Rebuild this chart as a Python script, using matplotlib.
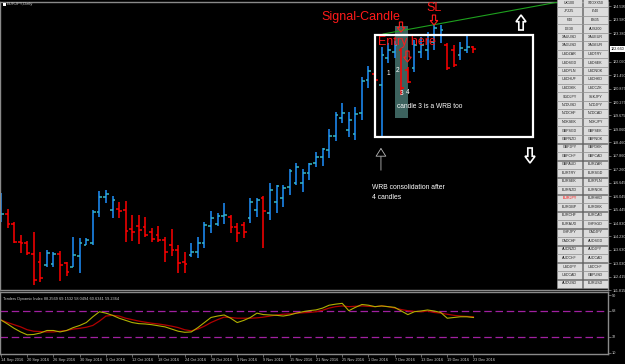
import numpy as np
import matplotlib.pyplot as plt
from matplotlib.patches import Rectangle, Polygon

plt.rcParams['font.family'] = ['Liberation Sans', 'DejaVu Sans']

# EURJPY daily bars, 14 Sep 2016 .. 23 Dec 2016 (bar index 0..72)
opens = [115.01, 115.235, 114.785, 113.975, 113.93, 113.435, 113.075, 112.94, 112.985, 113.435,
         113.03, 112.85, 113.345, 113.84, 113.93, 115.325, 116.0, 115.415, 115.46, 115.415,
         114.56, 114.695, 114.65, 114.425, 114.29, 114.065, 113.84, 113.615, 113.075, 113.39,
         113.525, 113.93, 114.695, 114.785, 115.145, 115.1, 114.65, 114.74, 115.055, 115.415,
         115.955, 115.28, 115.775, 115.955, 116.45, 116.63, 116.63, 117.08, 117.53, 117.8,
         118.115, 118.745, 119.555, 119.015, 118.835, 119.78, 121.265, 121.535, 121.04, 122.255,
         122.525, 122.615, 121.715, 121.805, 122.525, 122.615, 122.975, 123.29, 122.84, 122.615,
         122.39, 122.615, 122.75]
highs = [116.18, 115.46, 114.875, 114.29, 114.02, 114.425, 113.525, 113.615, 113.525, 113.57,
         113.075, 114.2, 114.155, 114.155, 115.415, 116.27, 116.315, 116.045, 115.775, 115.82,
         115.19, 115.19, 115.1, 114.605, 114.695, 114.2, 114.56, 113.84, 113.525, 113.93,
         114.2, 114.875, 115.37, 115.28, 115.73, 115.19, 114.83, 114.875, 115.955, 115.955,
         116.045, 116.63, 116.54, 116.54, 117.26, 117.53, 117.26, 117.53, 118.025, 118.205,
         119.06, 119.825, 120.23, 119.825, 120.05, 121.4, 121.895, 121.715, 122.75, 122.93,
         123.02, 122.705, 121.85, 123.065, 123.2, 123.425, 123.785, 123.74, 122.93, 122.84,
         122.975, 123.29, 122.795]
lows = [114.875, 114.605, 113.93, 113.48, 113.39, 112.04, 112.175, 112.85, 112.85, 112.22,
        112.445, 112.85, 112.58, 113.84, 113.84, 115.1, 115.73, 115.055, 115.055, 113.975,
        114.02, 113.885, 114.2, 113.975, 113.975, 113.075, 113.345, 112.58, 112.58, 113.3,
        113.255, 113.705, 114.38, 114.695, 114.785, 114.38, 113.975, 114.155, 114.83, 115.1,
        113.705, 114.965, 115.28, 115.55, 116.09, 116.54, 116.225, 116.765, 117.35, 117.395,
        117.755, 118.52, 119.33, 118.7, 118.565, 119.465, 120.905, 121.085, 118.7, 122.03,
        122.255, 120.59, 121.13, 121.625, 122.255, 122.165, 122.615, 122.93, 121.715, 121.85,
        122.165, 122.48, 122.48]
closes = [115.235, 114.785, 113.975, 113.93, 113.48, 112.265, 112.355, 113.48, 113.435, 112.94,
          112.625, 113.39, 113.93, 114.065, 115.325, 116.0, 116.135, 115.865, 115.37, 114.47,
          114.425, 114.515, 114.29, 114.11, 114.065, 113.525, 113.615, 113.03, 112.985, 113.525,
          113.93, 114.74, 115.055, 115.145, 115.19, 114.65, 114.38, 114.425, 115.775, 115.865,
          115.37, 116.315, 116.495, 116.405, 117.17, 117.35, 117.08, 117.485, 117.8, 118.16,
          118.745, 119.69, 119.78, 119.465, 119.735, 121.22, 121.67, 121.265, 122.39, 122.615,
          122.84, 120.905, 121.175, 122.84, 122.84, 123.29, 123.605, 123.515, 121.805, 121.94,
          122.705, 122.75, 122.66]

# price scale labels (the one under the current-price box is hidden, as in MT4)
price_ticks = [124.595, 123.980, 123.380, 122.090, 121.490, 120.875, 120.275, 119.675, 119.060,
               118.460, 117.860, 117.260, 116.645, 116.045, 115.445, 114.830, 114.230, 113.630,
               113.030, 112.415, 111.815]

date_ticks = [0, 4, 8, 12, 16, 20, 24, 28, 32, 36, 40, 44, 48, 52, 56, 60, 64, 68, 72]
date_labels = ['14 Sep 2016', '20 Sep 2016', '26 Sep 2016', '30 Sep 2016', '6 Oct 2016',
               '12 Oct 2016', '18 Oct 2016', '24 Oct 2016', '28 Oct 2016', '3 Nov 2016',
               '9 Nov 2016', '15 Nov 2016', '21 Nov 2016', '25 Nov 2016', '1 Dec 2016',
               '7 Dec 2016', '13 Dec 2016', '19 Dec 2016', '23 Dec 2016']

# Traders Dynamic Index (fast / slow line), one value per bar
tdi_fast = [55.5, 50, 44, 39, 35, 35.5, 37.5, 41, 41, 39, 41, 45, 48, 52, 60, 67, 65, 62, 58, 55,
            52, 50.5, 50, 49, 47.5, 46, 43, 40, 38.5, 39, 45, 52, 59, 61, 62.5, 58, 52, 55, 59, 65,
            63, 62.5, 62, 61, 62.5, 65, 67, 68.5, 69.5, 72, 76, 77.5, 78.6, 68.4, 73, 77, 76, 74,
            75, 74, 73, 68, 63, 67, 68, 69.4, 68, 66, 58, 59, 60, 60, 59]
tdi_slow = [55.5, 52, 49, 46, 42, 40, 39.5, 39, 39, 40, 41, 43, 44, 45.5, 48, 54, 61, 62, 61, 58,
            56, 54, 52.5, 51, 50, 48.6, 47, 45, 42, 40.5, 43, 47, 52, 56, 59.5, 59, 58, 58, 58,
            58.5, 59.5, 61, 62.5, 63.5, 64, 65, 65.5, 66, 67, 69, 72, 74, 75, 74, 74.5, 75, 74.5,
            74, 75, 74, 72, 70, 68.4, 67.5, 67, 68, 66, 65, 63.5, 62, 61, 60.5, 60]
tdi_levels = [68, 32]
tdi_ticks = [90, 68, 32, 10]
tdi_title = 'Traders Dynamic Index 88.2569 69.1532 58.0494 60.6341 59.2364'

button_rows = [('UK100', 'STOXX50'), ('JP225', 'IT40'), ('F40', 'ES35'), ('DE30', 'AUS200'),
               ('XAUUSD', 'XAUEUR'), ('XAGUSD', 'XAGEUR'), ('USDZAR', 'USDTRY'), ('USDSGD', 'USDSEK'),
               ('USDPLN', 'USDNOK'), ('USDHUF', 'USDHKD'), ('USDDKK', 'USDCZK'), ('SGDJPY', 'SEKJPY'),
               ('NZDUSD', 'NZDJPY'), ('NZDCHF', 'NZDCAD'), ('NOKSEK', 'NOKJPY'), ('GBPSGD', 'GBPSEK'),
               ('GBPNZD', 'GBPNOK'), ('GBPJPY', 'GBPDKK'), ('GBPCHF', 'GBPCAD'), ('GBPAUD', 'EURZAR'),
               ('EURTRY', 'EURSGD'), ('EURSEK', 'EURPLN'), ('EURNZD', 'EURNOK'), ('EURJPY', 'EURHKD'),
               ('EURGBP', 'EURDKK'), ('EURCHF', 'EURCAD'), ('EURAUD', 'CHFSGD'), ('CHFJPY', 'CADJPY'),
               ('CADCHF', 'AUDSGD'), ('AUDNZD', 'AUDJPY'), ('AUDCHF', 'AUDCAD'), ('USDJPY', 'USDCHF'),
               ('USDCAD', 'GBPUSD'), ('AUDUSD', 'EURUSD')]
active_symbol = 'EURJPY'

W, H = 625, 364
def fx(px):
    return px / W
def fy(py):
    return 1 - py / H

fig = plt.figure(figsize=(6.25, 3.64), dpi=100, facecolor='black')
ax = fig.add_axes([0, fy(290), fx(608), (290 - 2) / H])
ax2 = fig.add_axes([0, fy(354), fx(608), (354 - 292) / H])

for a in (ax, ax2):
    a.set_facecolor('black')
    for s in a.spines.values():
        s.set_color('#8a8a8a')
        s.set_linewidth(1.0)
    a.set_xlim(-0.15, 92.5)

# ---- price panel ----
ax.set_ylim(111.815, 124.775)
x = np.arange(len(closes))
o, h, l, c = map(np.array, (opens, highs, lows, closes))
up = c >= o
bar_col = np.where(up, '#1e90ff', '#ff0000')
tick_col = np.where(up, '#38b8c4', '#ff0000')
ax.vlines(x, l, h, colors=bar_col, lw=1.1, zorder=2)
ax.hlines(o, x - 0.42, x, colors=tick_col, lw=1.1, zorder=2)
ax.hlines(c, x, x + 0.42, colors=tick_col, lw=1.1, zorder=2)

ax.set_xticks([])
ax.yaxis.tick_right()
ax.set_yticks(price_ticks)
ax.set_yticklabels([f'{v:.3f}' for v in price_ticks])
ax.tick_params(axis='y', colors='#8a8a8a', labelcolor='#d0d0d0', labelsize=2.7,
               length=2, width=0.5, pad=1)
ax.text(1.004, closes[-1], f'{closes[-1]:.3f}', transform=ax.get_yaxis_transform(),
        fontsize=2.7, color='black', va='center', ha='left', clip_on=False,
        bbox=dict(boxstyle='square,pad=0.2', fc='white', ec='none'))

# trade setup drawings
ax.add_patch(Rectangle((60.06, 119.555), 1.98, 4.14, fc='#3c625e', ec='none', zorder=1))
ax.add_patch(Rectangle((57.0, 118.7), 24.1, 4.59, fill=False, ec='white', lw=1.6, zorder=4))
ax.plot([58.23, 92.5], [123.335, 123.335 + (92.5 - 58.23) * 0.0539], color='#1ea01e', lw=0.8, zorder=3)

red = '#ff1a1a'
ax.text(48.9, 124.10, 'Signal-Candle', color=red, fontsize=9, va='center', ha='left', zorder=6)
ax.text(64.9, 124.505, 'SL', color=red, fontsize=9, va='center', ha='left', zorder=6)
ax.text(57.5, 122.975, 'Entry here', color=red, fontsize=9, va='center', ha='left', zorder=6)


def hollow_arrow(cx, top, height, half_w, shaft_w, color, lw, pointing='down'):
    # outline arrow drawn in figure pixels (top = upper edge, in pixels from the top)
    head = height * 0.45
    if pointing == 'down':
        pts = [(cx - shaft_w, top), (cx + shaft_w, top), (cx + shaft_w, top + height - head),
               (cx + half_w, top + height - head), (cx, top + height),
               (cx - half_w, top + height - head), (cx - shaft_w, top + height - head)]
    else:
        bot = top + height
        pts = [(cx - shaft_w, bot), (cx + shaft_w, bot), (cx + shaft_w, top + head),
               (cx + half_w, top + head), (cx, top),
               (cx - half_w, top + head), (cx - shaft_w, top + head)]
    fig.add_artist(Polygon([(fx(px), fy(py)) for px, py in pts], closed=True, fill=False,
                           ec=color, lw=lw, transform=fig.transFigure, zorder=4))


hollow_arrow(401, 22, 10, 3.8, 1.6, red, 0.8)
hollow_arrow(407.5, 51, 11, 3.8, 1.6, red, 0.8)
hollow_arrow(434, 15, 10, 3.8, 1.6, red, 0.8)
hollow_arrow(521, 15, 15, 5, 2.2, 'white', 1.2, pointing='up')
hollow_arrow(530, 148, 15, 5, 2.2, 'white', 1.2)

for lbl, lx, ly in [('1', 58.99, 121.58), ('2', 60.37, 121.715), ('3', 60.98, 120.68), ('4', 62.04, 120.725)]:
    ax.text(lx, ly, lbl, color='white', fontsize=4.7, ha='center', va='center', zorder=6)
ax.text(60.37, 120.095, 'candle 3 is a WRB too', color='white', fontsize=4.8, va='center', ha='left', zorder=6)
ax.text(56.55, 116.45, 'WRB consolidation after', color='white', fontsize=4.9, va='center', ha='left')
ax.text(56.55, 116.0, '4 candles', color='white', fontsize=4.9, va='center', ha='left')
ax.annotate('', xy=(57.9, 118.34), xytext=(57.9, 117.08),
            arrowprops=dict(arrowstyle='-|>,head_length=0.55,head_width=0.35',
                            ec='#b8b8b8', fc='black', lw=0.6))

# ---- indicator panel ----
ax2.set_ylim(8.45, 94.3)
for v in tdi_levels:
    ax2.axhline(v, color='#a020a0', lw=0.9, dashes=(6, 3))
ax2.plot(x, tdi_slow, color='#b00000', lw=0.9)
ax2.plot(x, tdi_fast, color='#b0b000', lw=0.8)
ax2.yaxis.tick_right()
ax2.set_yticks(tdi_ticks)
ax2.set_yticklabels([str(v) for v in tdi_ticks])
ax2.set_xticks(date_ticks)
ax2.set_xticklabels(date_labels, ha='left')
ax2.tick_params(colors='#8a8a8a', labelcolor='#d0d0d0', labelsize=2.8, length=2, width=0.5, pad=1)
ax2.text(0.005, 0.92, tdi_title, transform=ax2.transAxes, fontsize=2.8, color='#d0d0d0', va='top')

# ---- header + symbol buttons ----
fig.add_artist(Rectangle((fx(3), fy(6)), fx(3), 3 / H, fc='white', ec='none', transform=fig.transFigure))
fig.text(fx(7), fy(4.5), 'EURJPY,Daily', fontsize=3, color='#c8c8c8', va='center')

for k, pair in enumerate(button_rows):
    yc = 3 + 8.5 * k
    for j, sym in enumerate(pair):
        x0 = 557 + 26 * j
        fig.add_artist(Rectangle((fx(x0), fy(yc + 4)), fx(25), 8 / H, transform=fig.transFigure,
                                 fc='#dcdcdc', ec='#9a9a9a', lw=0.4, zorder=5))
        fig.text(fx(x0 + 12.5), fy(yc), sym, fontsize=2.6, ha='center', va='center', zorder=6,
                 color='#ff0000' if sym == active_symbol else '#202020')

fig.savefig('out.png', dpi=100, facecolor='black')
